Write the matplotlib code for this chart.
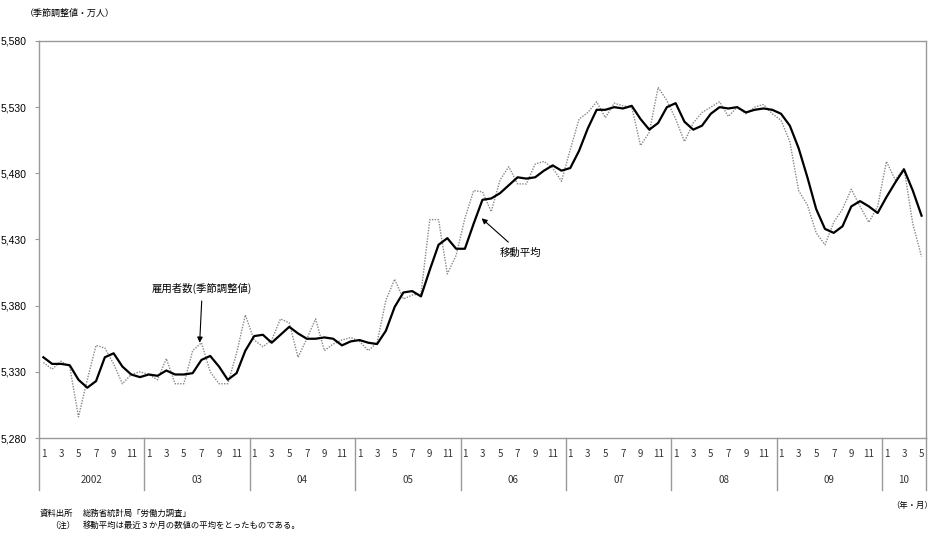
import numpy as np
import matplotlib
matplotlib.use('Agg')
import matplotlib.pyplot as plt
import matplotlib.transforms as mtrans

plt.rcParams['font.family'] = ['Noto Sans CJK JP', 'DejaVu Sans']

# employees, seasonally adjusted (10k persons), Jan 2002 - May 2010
raw = [5337, 5332, 5338, 5334, 5296, 5324, 5350, 5348, 5336, 5321, 5328, 5330,
       5328, 5324, 5340, 5321, 5321, 5346, 5352, 5330, 5321, 5321, 5344, 5373,
       5354, 5349, 5354, 5370, 5367, 5341, 5355, 5370, 5346, 5351, 5354, 5356,
       5353, 5346, 5352, 5384, 5400, 5385, 5388, 5389, 5445, 5445, 5404, 5418,
       5446, 5467, 5466, 5451, 5475, 5485, 5472, 5472, 5487, 5489, 5484, 5474,
       5498, 5521, 5526, 5534, 5522, 5533, 5531, 5530, 5501, 5511, 5545, 5535,
       5521, 5504, 5518, 5526, 5530, 5534, 5523, 5530, 5525, 5530, 5532, 5525,
       5520, 5504, 5467, 5456, 5435, 5426, 5443, 5453, 5468, 5455, 5443, 5455,
       5489, 5475, 5484, 5442, 5417]

# 3 month moving average
ma = [5341, 5336, 5336, 5335, 5324, 5318, 5323, 5341, 5344, 5334, 5328, 5326,
      5328, 5327, 5331, 5328, 5328, 5329, 5339, 5342, 5334, 5324, 5329, 5346,
      5357, 5358, 5352, 5358, 5364, 5359, 5355, 5355, 5356, 5355, 5350, 5353,
      5354, 5352, 5351, 5361, 5379, 5390, 5391, 5387, 5407, 5426, 5431, 5423,
      5423, 5442, 5460, 5461, 5465, 5471, 5477, 5476, 5477, 5482, 5486, 5482,
      5484, 5497, 5514, 5528, 5528, 5530, 5529, 5531, 5521, 5513, 5518, 5530,
      5533, 5519, 5513, 5516, 5525, 5530, 5529, 5530, 5526, 5528, 5529, 5528,
      5525, 5516, 5499, 5477, 5453, 5438, 5435, 5440, 5455, 5459, 5455, 5450,
      5462, 5473, 5483, 5467, 5448]

years = ['2002', '03', '04', '05', '06', '07', '08', '09', '10']
month_labels = ['1', '3', '5', '7', '9', '11']
yticks = [5280, 5330, 5380, 5430, 5480, 5530, 5580]

x = np.arange(len(raw))
gray = '#999999'

fig = plt.figure(figsize=(9.39, 5.35), dpi=100)
ax = fig.add_axes([0.0415, 0.1813, 0.9446, 0.7421])

ax.plot(x, raw, color='#888888', lw=1.0, ls=(0, (1, 1)))
ax.plot(x, ma, color='black', lw=1.6)

ax.set_xlim(-0.5, len(raw) - 0.5)
ax.set_ylim(5280, 5580)
ax.set_yticks(yticks)
ax.set_yticklabels([f'{v:,}' for v in yticks], fontsize=7.5,
                   family='Liberation Sans')
ax.tick_params(axis='y', length=3, width=0.8, color=gray, pad=6)
ax.set_xticks([])
for s in ax.spines.values():
    s.set_color(gray)
    s.set_linewidth(1.0)

# category axis: month numbers, year names and separators under the plot
tr = mtrans.blended_transform_factory(ax.transData, ax.transAxes)
for k, yr in enumerate(years):
    start = 12 * k
    end = min(12 * (k + 1), len(raw))
    for j, m in enumerate(month_labels):
        pos = start + 2 * j
        if pos < end:
            ax.text(pos, -0.04, m, transform=tr, ha='center', va='center',
                    fontsize=7, color='#333333')
    ax.text((start + end - 1) / 2, -0.106, yr, transform=tr, ha='center',
            va='center', fontsize=7, color='#333333')
    ax.plot([start - 0.5, start - 0.5], [0, -0.131], transform=tr,
            color=gray, lw=1.0, clip_on=False)
ax.plot([len(raw) - 0.5] * 2, [0, -0.131], transform=tr, color=gray, lw=1.0,
        clip_on=False)

# labels with arrows
ax.annotate('雇用者数(季節調整値)', xy=(17.8, 5352), xytext=(18.1, 5393),
            ha='center', va='center', fontsize=7.5,
            arrowprops=dict(arrowstyle='-|>', color='black', lw=0.8,
                            mutation_scale=8, shrinkA=3, shrinkB=0))
ax.annotate('移動平均', xy=(49.9, 5446), xytext=(54.3, 5420),
            ha='center', va='center', fontsize=7.5,
            arrowprops=dict(arrowstyle='-|>', color='black', lw=0.8,
                            mutation_scale=8, shrinkA=3, shrinkB=0))

fig.text(25 / 939, 1 - 13 / 535, '（季節調整値・万人）', fontsize=6.5,
         ha='left', va='center')
fig.text(933 / 939, 1 - 505 / 535, '（年・月）', fontsize=6, ha='right',
         va='center')
fig.text(40 / 939, 1 - 513 / 535, '資料出所', fontsize=6, ha='left', va='center')
fig.text(83 / 939, 1 - 513 / 535, '総務省統計局「労働力調査」', fontsize=6,
         ha='left', va='center')
fig.text(50 / 939, 1 - 525 / 535, '（注）', fontsize=6, ha='left', va='center')
fig.text(83 / 939, 1 - 525 / 535, '移動平均は最近３か月の数値の平均をとったものである。',
         fontsize=6, ha='left', va='center')

fig.savefig('out.png', dpi=100, facecolor='white')
